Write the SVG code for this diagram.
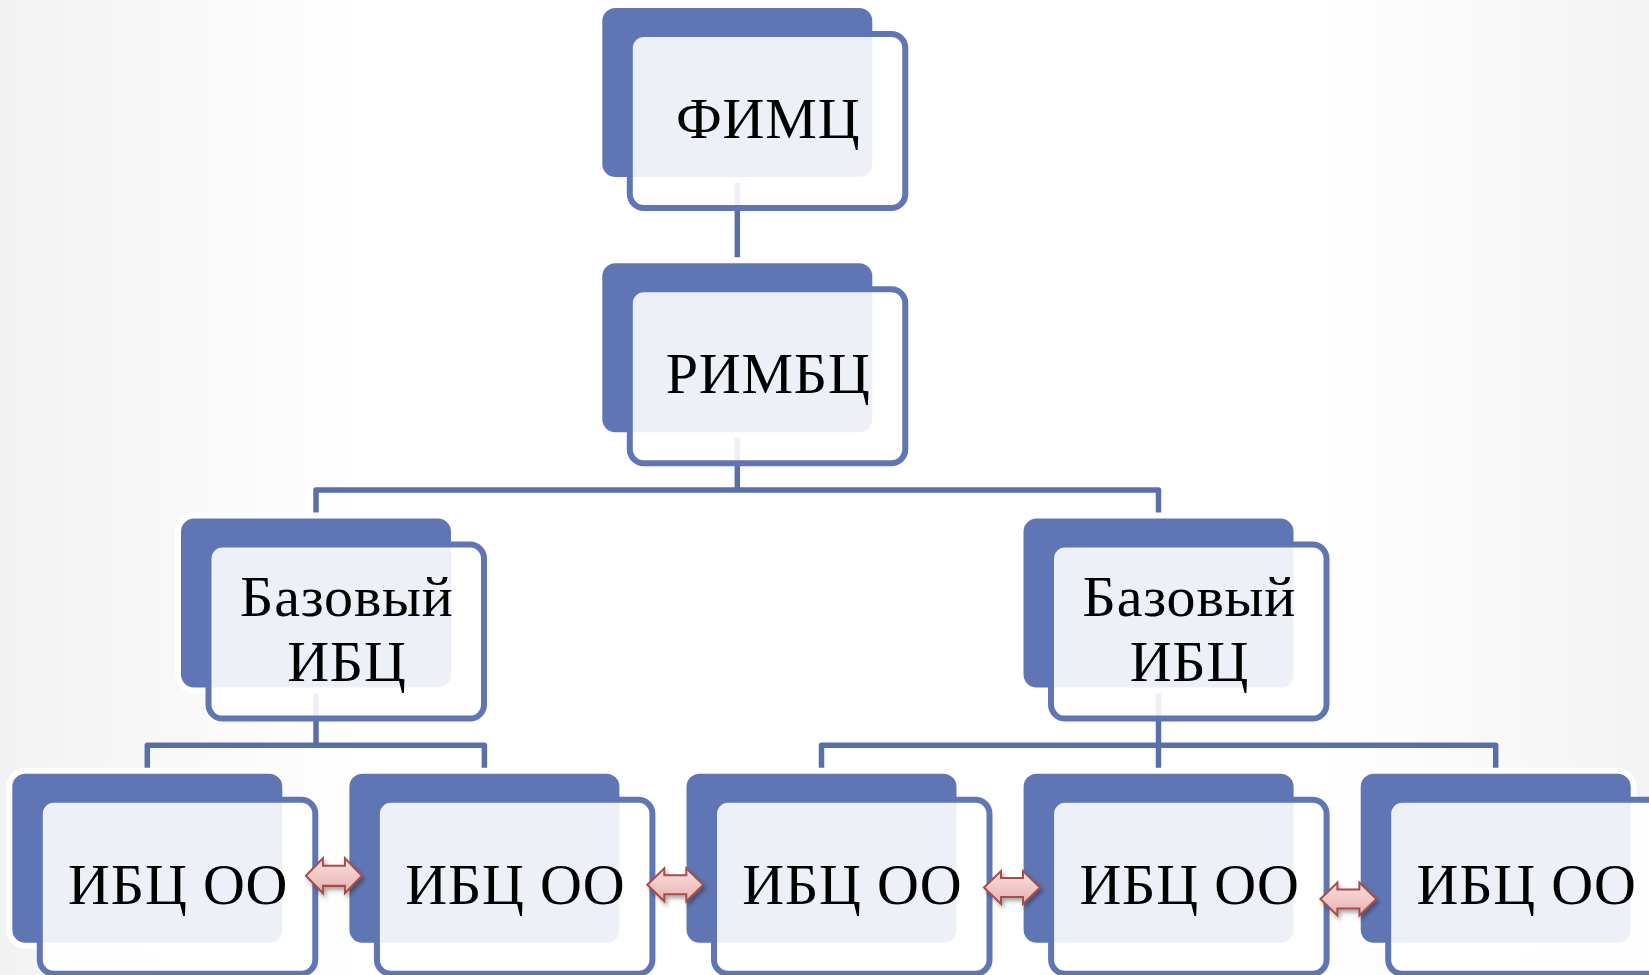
<svg xmlns="http://www.w3.org/2000/svg" width="1649" height="975" viewBox="0 0 1649 975">
<defs>
<linearGradient id="bg" x1="0" y1="0" x2="1" y2="0">
<stop offset="0" stop-color="#F2F2F2"/>
<stop offset="0.22" stop-color="#FFFFFF"/>
<stop offset="0.8" stop-color="#FFFFFF"/>
<stop offset="1" stop-color="#F3F3F3"/>
</linearGradient>
<linearGradient id="arrowFill" x1="0" y1="0" x2="0" y2="1">
<stop offset="0" stop-color="#F8E0DF"/>
<stop offset="1" stop-color="#E8B1AF"/>
</linearGradient>
<filter id="shadow" x="-30%" y="-30%" width="160%" height="170%">
<feDropShadow dx="2" dy="3" stdDeviation="2" flood-color="#000" flood-opacity="0.35"/>
</filter>
<path id="dblArrow" d="M-28,0 L-11,-16.5 L-11,-9.5 L11,-9.5 L11,-16.5 L28,0 L11,16.5 L11,9.5 L-11,9.5 L-11,16.5 Z"/>
</defs>
<style>
.back{fill:#6076B4;stroke:#FFFFFF;stroke-width:12;paint-order:stroke;}
.front{fill:#FFFFFF;fill-opacity:0.89;stroke:#6076B4;stroke-width:6;}
.conn{fill:none;stroke:#5A6FA8;stroke-width:5.5;stroke-linejoin:round;}
.lbl{font-family:"Liberation Serif","Times New Roman",serif;font-size:58px;letter-spacing:0.8px;fill:#000000;text-anchor:middle;}
.arr{fill:url(#arrowFill);stroke:#A44D4A;stroke-width:2;stroke-linejoin:miter;filter:url(#shadow);}
</style>
<rect x="0" y="0" width="1649" height="975" fill="url(#bg)"/>

<g id="connectors">
<path class="conn" d="M737.3,177 V263"/>
<path class="conn" d="M737.3,431 V490"/>
<path class="conn" d="M316,518.6 V490 H1158.5 V518.6"/>
<path class="conn" d="M316,687 V745.3"/>
<path class="conn" d="M147.3,773.7 V745.3 H484.4 V773.7"/>
<path class="conn" d="M1158.5,687 V773.7"/>
<path class="conn" d="M821.5,773.7 V745.3 H1495.7 V773.7"/>
</g>

<g id="node-fimc">
<rect class="back" x="602.3" y="8" width="270" height="169" rx="13"/>
<rect class="front" x="629.8" y="34" width="275.5" height="174" rx="14"/>
<text class="lbl" x="768.2" y="138">ФИМЦ</text>
</g>

<g id="node-rimbc">
<rect class="back" x="602.3" y="263.3" width="270" height="169" rx="13"/>
<rect class="front" x="629.8" y="289.3" width="275.5" height="174" rx="14"/>
<text class="lbl" x="768.2" y="393.3">РИМБЦ</text>
</g>

<g id="node-base-left">
<rect class="back" x="181" y="518.6" width="270" height="169" rx="13"/>
<rect class="front" x="208.5" y="544.6" width="275.5" height="174" rx="14"/>
<text class="lbl" x="346.9" y="616">Базовый</text>
<text class="lbl" x="346.9" y="680.6">ИБЦ</text>
</g>

<g id="node-base-right">
<rect class="back" x="1023.5" y="518.6" width="270" height="169" rx="13"/>
<rect class="front" x="1051" y="544.6" width="275.5" height="174" rx="14"/>
<text class="lbl" x="1189.4" y="616">Базовый</text>
<text class="lbl" x="1189.4" y="680.6">ИБЦ</text>
</g>

<g id="node-oo-1">
<rect class="back" x="12.3" y="773.7" width="270" height="169" rx="13"/>
<rect class="front" x="39.8" y="799.7" width="275.5" height="174" rx="14"/>
<text class="lbl" x="178.2" y="904">ИБЦ ОО</text>
</g>

<g id="node-oo-2">
<rect class="back" x="349.4" y="773.7" width="270" height="169" rx="13"/>
<rect class="front" x="376.9" y="799.7" width="275.5" height="174" rx="14"/>
<text class="lbl" x="515.3" y="904">ИБЦ ОО</text>
</g>

<g id="node-oo-3">
<rect class="back" x="686.5" y="773.7" width="270" height="169" rx="13"/>
<rect class="front" x="714" y="799.7" width="275.5" height="174" rx="14"/>
<text class="lbl" x="852.4" y="904">ИБЦ ОО</text>
</g>

<g id="node-oo-4">
<rect class="back" x="1023.6" y="773.7" width="270" height="169" rx="13"/>
<rect class="front" x="1051.1" y="799.7" width="275.5" height="174" rx="14"/>
<text class="lbl" x="1189.5" y="904">ИБЦ ОО</text>
</g>

<g id="node-oo-5">
<rect class="back" x="1360.7" y="773.7" width="270" height="169" rx="13"/>
<rect class="front" x="1388.2" y="799.7" width="275.5" height="174" rx="14"/>
<text class="lbl" x="1526.6" y="904">ИБЦ ОО</text>
</g>

<g id="arrows">
<use href="#dblArrow" class="arr" transform="translate(333.9,875.8) scale(1,1.06)"/>
<use href="#dblArrow" class="arr" transform="translate(675.3,884.8)"/>
<use href="#dblArrow" class="arr" transform="translate(1012,887.5)"/>
<use href="#dblArrow" class="arr" transform="translate(1348.4,899)"/>
</g>
</svg>
